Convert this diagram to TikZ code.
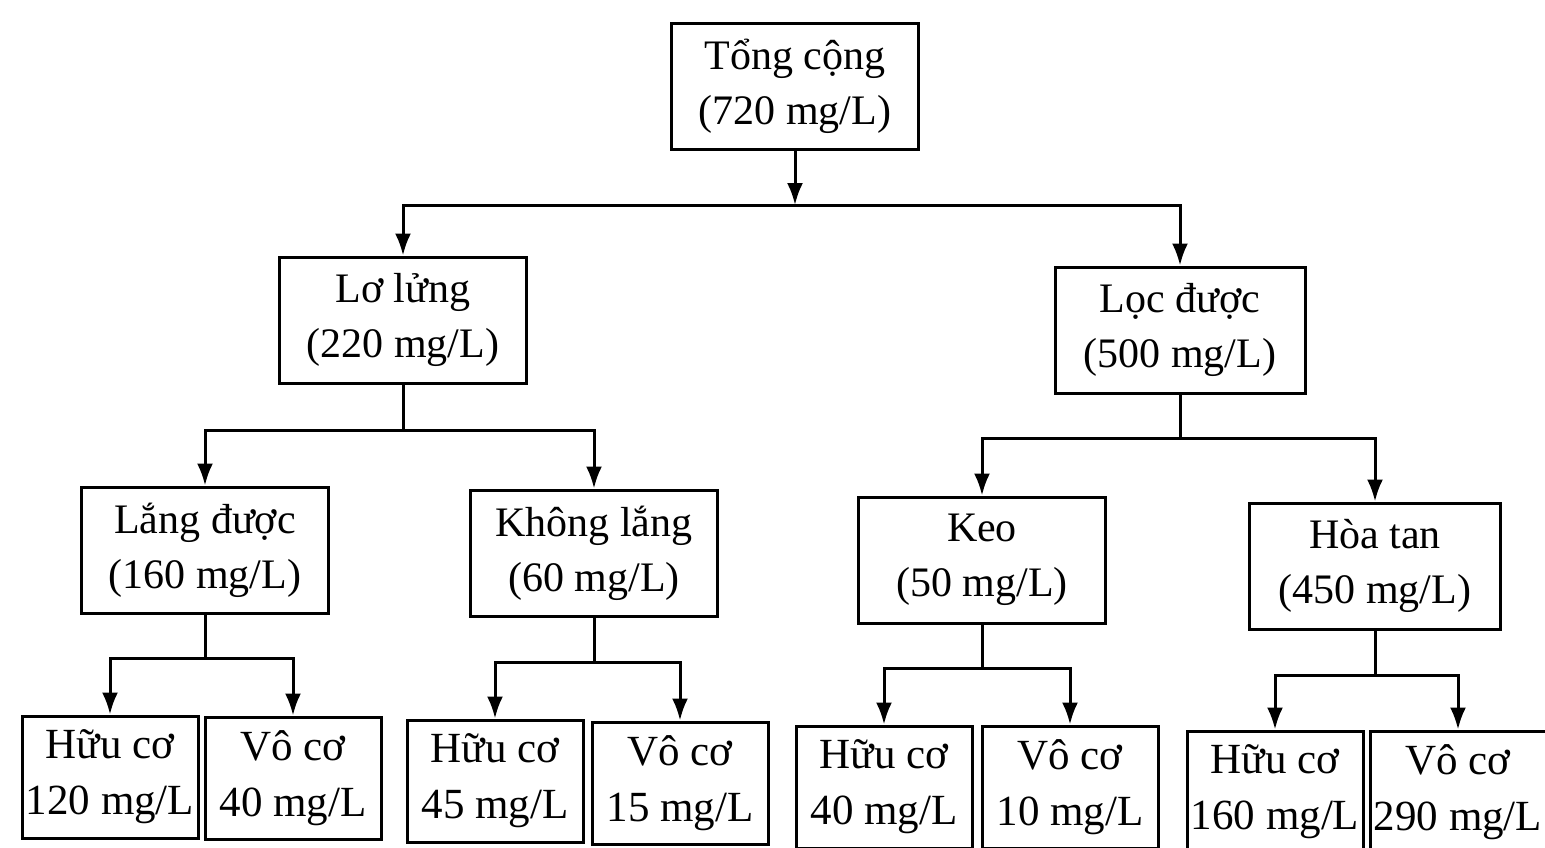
\documentclass[tikz,border=0pt]{standalone}
\usepackage{fontspec}
\setmainfont{Liberation Serif}
\usetikzlibrary{arrows.meta}
\tikzset{
  box/.style={draw=black, line width=3pt, align=center, inner sep=0pt, text=black},
  mid/.style={box, minimum width=247pt, minimum height=126pt,
    font=\fontsize{42}{55}\selectfont},
  leaf/.style={box, minimum width=176pt, minimum height=122pt,
    font=\fontsize{43}{56}\selectfont},
  conn/.style={line width=3pt, -{Latex[length=22pt,width=16pt]}},
  plain/.style={line width=3pt},
}
\begin{document}
\begin{tikzpicture}[x=1pt,y=-1pt]
\useasboundingbox (0,0) rectangle (1545,847);
% nodes
\node[mid] (T) at (795,86) {Tổng cộng\\(720 mg/L)};
\node[mid] (A) at (403,320) {Lơ lửng\\(220 mg/L)};
\node[mid, minimum width=250pt] (B) at (1180,330) {Lọc được\\(500 mg/L)};
\node[mid] (A1) at (205,550) {Lắng được\\(160 mg/L)};
\node[mid] (A2) at (594,553) {Không lắng\\(60 mg/L)};
\node[mid] (B1) at (982,560) {Keo\\(50 mg/L)};
\node[mid, minimum width=251pt] (B2) at (1375,566) {Hòa tan\\(450 mg/L)};
\node[leaf] (L1) at (110,777) {Hữu cơ\\120 mg/L};
\node[leaf] (L2) at (293,778) {Vô cơ\\40 mg/L};
\node[leaf] (L3) at (495,781) {Hữu cơ\\45 mg/L};
\node[leaf] (L4) at (680,783) {Vô cơ\\15 mg/L};
\node[leaf] (L5) at (884,787) {Hữu cơ\\40 mg/L};
\node[leaf] (L6) at (1070,787) {Vô cơ\\10 mg/L};
\node[leaf] (L7) at (1275,792) {Hữu cơ\\160 mg/L};
\node[leaf] (L8) at (1458,792) {Vô cơ\\290 mg/L};
% junctions
\coordinate (jT) at (795,205);
\coordinate (jA) at (403,430);
\coordinate (jB) at (1180,438);
\coordinate (jA1) at (205,658);
\coordinate (jA2) at (594,662);
\coordinate (jB1) at (982,668);
\coordinate (jB2) at (1375,675);
% connectors
\draw[conn] (T.south) -- (jT);
\draw[conn] (jT) -| (A.north);
\draw[conn] (jT) -| (B.north);
\draw[plain] (A.south) -- (jA);
\draw[conn] (jA) -| (A1.north);
\draw[conn] (jA) -| (A2.north);
\draw[plain] (B.south) -- (jB);
\draw[conn] (jB) -| (B1.north);
\draw[conn] (jB) -| (B2.north);
\draw[plain] (A1.south) -- (jA1);
\draw[conn] (jA1) -| (L1.north);
\draw[conn] (jA1) -| (L2.north);
\draw[plain] (A2.south) -- (jA2);
\draw[conn] (jA2) -| (L3.north);
\draw[conn] (jA2) -| (L4.north);
\draw[plain] (B1.south) -- (jB1);
\draw[conn] (jB1) -| (L5.north);
\draw[conn] (jB1) -| (L6.north);
\draw[plain] (B2.south) -- (jB2);
\draw[conn] (jB2) -| (L7.north);
\draw[conn] (jB2) -| (L8.north);
\end{tikzpicture}
\end{document}
